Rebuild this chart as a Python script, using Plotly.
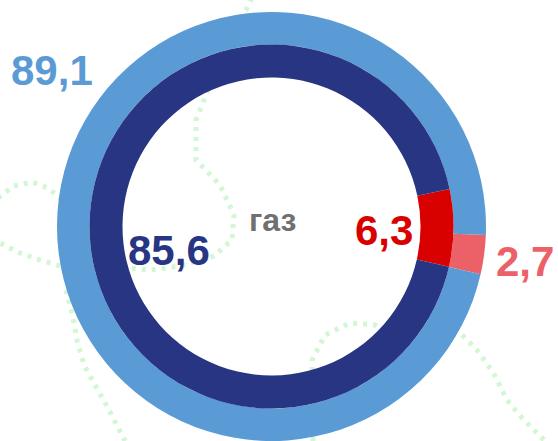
import plotly.graph_objects as go

# Gas balance: outer ring vs inner ring, shares shown with comma decimals
outer_labels = ["outer_other", "outer_main"]
outer_values = [2.7, 89.1]
inner_labels = ["inner_other", "inner_main"]
inner_values = [6.3, 85.6]
centre_label = "газ"

outer_colors = ["#EC6167", "#5B9BD5"]
inner_colors = ["#D90000", "#283583"]

W, H = 558, 441
CX, CY = 271.5, 226.5          # ring centre in pixels (from top-left)
R_OUT, R_MID, R_IN = 214.5, 182.0, 149.0


def fmt(v):
    return f"{v:.1f}".replace(".", ",")


def dom(r):
    return dict(
        x=[(CX - r) / W, (CX + r) / W],
        y=[(H - CY - r) / H, (H - CY + r) / H],
    )


fig = go.Figure()
fig.add_trace(go.Pie(
    labels=outer_labels, values=outer_values, sort=False,
    direction="clockwise", rotation=92.3,
    hole=R_MID / R_OUT, domain=dom(R_OUT),
    marker=dict(colors=outer_colors, line=dict(width=0)),
    textinfo="none", hoverinfo="skip", showlegend=False,
))
fig.add_trace(go.Pie(
    labels=inner_labels, values=inner_values, sort=False,
    direction="clockwise", rotation=78.1,
    hole=R_IN / R_MID, domain=dom(R_MID),
    marker=dict(colors=inner_colors, line=dict(width=0)),
    textinfo="none", hoverinfo="skip", showlegend=False,
))

# faint dotted green curves in the background
deco_paths = [
    [(252, -2), (246, 10), (238, 20)],
    [(212, 80), (196, 120), (196, 160), (220, 185), (234, 215), (232, 240),
     (214, 256), (180, 266), (150, 270), (130, 268)],
    [(60, 266), (40, 260), (20, 253), (-2, 242)],
    [(-2, 198), (14, 186), (32, 182), (48, 188), (60, 198)],
    [(66, 290), (73, 317), (77, 340), (84, 365), (95, 385), (108, 408), (125, 441)],
    [(313, 441), (312, 360), (325, 335), (350, 323), (375, 325), (395, 338)],
    [(455, 328), (477, 350), (494, 374), (507, 400), (522, 418), (545, 441)],
]


def to_path(pts):
    p = [(x / W, 1 - y / H) for x, y in pts]
    s = f"M {p[0][0]},{p[0][1]}"
    for x, y in p[1:]:
        s += f" L {x},{y}"
    return s


for pts in deco_paths:
    fig.add_shape(type="path", path=to_path(pts), xref="paper", yref="paper",
                  layer="below",
                  line=dict(color="#D3F6D3", width=5, dash="4px,6px"))

font = "Liberation Sans, Arial, sans-serif"
ann = [
    (fmt(outer_values[1]), 52, 70, outer_colors[1], 42),
    (fmt(inner_values[1]), 169, 250, inner_colors[1], 42),
    (fmt(inner_values[0]), 384, 230, inner_colors[0], 42),
    (fmt(outer_values[0]), 525, 261, outer_colors[0], 42),
    (centre_label, 272, 220, "#707070", 32),
]
for text, x, y, color, size in ann:
    fig.add_annotation(
        text=f"<b>{text}</b>", x=x / W, y=1 - y / H, xref="paper", yref="paper",
        xanchor="center", yanchor="middle", showarrow=False,
        font=dict(family=font, size=size, color=color),
    )

fig.update_layout(
    width=W, height=H, margin=dict(l=0, r=0, t=0, b=0),
    paper_bgcolor="white", plot_bgcolor="white",
)
fig.write_html("out.html")
